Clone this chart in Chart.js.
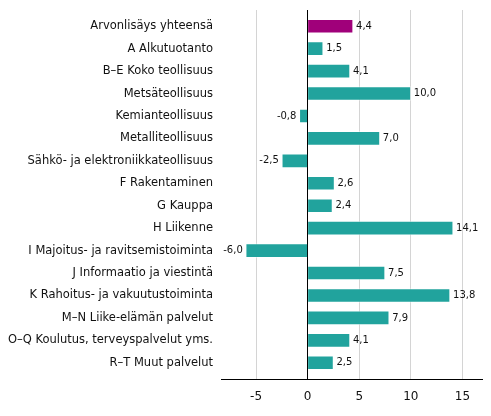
<!DOCTYPE html>
<html>
<head>
<meta charset="utf-8">
<script src="https://cdn.jsdelivr.net/npm/chart.js@4"></script>
<style>
  html, body { margin: 0; padding: 0; background: #fff; }
  #wrap { width: 491px; height: 416px; }
</style>
</head>
<body>
<div id="wrap"><canvas id="myChart"></canvas></div>
<script>
const categories = [
    'Arvonlisäys yhteensä',
    'A Alkutuotanto',
    'B–E Koko teollisuus',
    'Metsäteollisuus',
    'Kemianteollisuus',
    'Metalliteollisuus',
    'Sähkö- ja elektroniikkateollisuus',
    'F Rakentaminen',
    'G Kauppa',
    'H Liikenne',
    'I Majoitus- ja ravitsemistoiminta',
    'J Informaatio ja viestintä',
    'K Rahoitus- ja vakuutustoiminta',
    'M–N Liike-elämän palvelut',
    'O–Q Koulutus, terveyspalvelut yms.',
    'R–T Muut palvelut'
];
const values = [4.4, 1.5, 4.1, 10.0, -0.8, 7.0, -2.5, 2.6, 2.4, 14.1, -6.0, 7.5, 13.8, 7.9, 4.1, 2.5];
const xTicks = [-5, 0, 5, 10, 15];

const totalColor = '#a0007a';
const barColor = '#21a39d';

// a bit of extra space above the first and below the last category
const categoryInset = {
    id: 'categoryInset',
    afterLayout(chart) {
        const y = chart.scales.y;
        y._startPixel += 5;
        y._endPixel -= 5;
        y._length -= 10;
    }
};

const valueLabels = {
    id: 'valueLabels',
    afterDatasetsDraw(chart) {
        const c = chart.ctx;
        const meta = chart.getDatasetMeta(0);
        c.save();
        c.font = '10px "DejaVu Sans"';
        c.fillStyle = '#111';
        c.textBaseline = 'middle';
        meta.data.forEach((bar, i) => {
            const v = values[i];
            const txt = v.toFixed(1).replace('.', ',');
            if (v >= 0) {
                c.textAlign = 'left';
                c.fillText(txt, bar.x + 3, bar.y);
            } else {
                c.textAlign = 'right';
                c.fillText(txt, bar.x - 3, bar.y);
            }
        });
        c.restore();
    }
};

const ctx = document.getElementById('myChart');
new Chart(ctx, {
    type: 'bar',
    data: {
        labels: categories,
        datasets: [{
            data: values,
            backgroundColor: values.map((v, i) => i === 0 ? totalColor : barColor),
            borderColor: 'rgba(255,255,255,0.45)',
            borderWidth: 1,
            barThickness: 14
        }]
    },
    options: {
        indexAxis: 'y',
        responsive: true,
        maintainAspectRatio: false,
        animation: false,
        layout: { padding: { top: 10, right: 9 } },
        plugins: {
            legend: { display: false },
            tooltip: { enabled: false }
        },
        scales: {
            x: {
                min: -8.4,
                max: 16.9,
                afterBuildTicks: s => { s.ticks = xTicks.map(v => ({ value: v })); },
                afterFit: s => { s.height = 37; s.paddingLeft = 0; s.paddingRight = 0; },
                grid: {
                    color: c => (c.tick && c.tick.value === 0) ? '#000' : '#d4d4d4',
                    lineWidth: 1,
                    drawTicks: false
                },
                border: { display: true, color: '#000', width: 1 },
                ticks: {
                    padding: 11,
                    color: '#111',
                    font: { family: 'DejaVu Sans', size: 12 }
                }
            },
            y: {
                grid: { display: false, drawTicks: false },
                border: { display: false },
                afterFit: s => { s.width = 221; s.paddingTop = 0; s.paddingBottom = 0; },
                ticks: {
                    padding: 8,
                    autoSkip: false,
                    color: '#111',
                    font: { family: 'DejaVu Sans', size: 11.5 }
                }
            }
        }
    },
    plugins: [categoryInset, valueLabels]
});
</script>
</body>
</html>
